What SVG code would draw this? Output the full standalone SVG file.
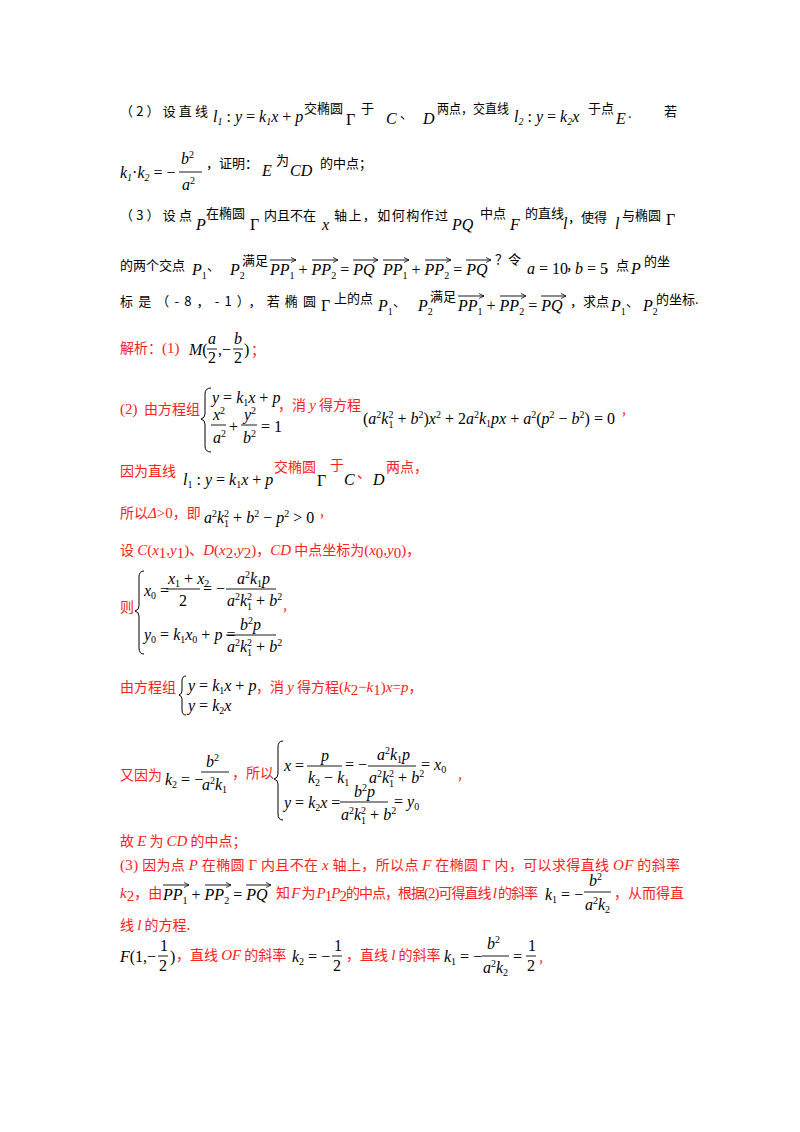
<svg xmlns="http://www.w3.org/2000/svg" width="800" height="1132" viewBox="0 0 800 1132">
<defs>
<marker id="ah" markerWidth="6" markerHeight="6" refX="5" refY="3" orient="auto" markerUnits="userSpaceOnUse"><path d="M0,0.5 L5,3 L0,5.5" fill="none" stroke="#000" stroke-width="0.8"/></marker>
</defs>
<style>
text{font-family:"Noto Sans CJK SC","Noto Sans",sans-serif;font-size:13px;fill:#000}
.m{font-family:"Liberation Serif","Noto Sans CJK SC",serif;font-size:16px;font-style:italic}
.n{font-family:"Liberation Serif","Noto Sans CJK SC",serif;font-size:16px;font-style:normal}
.s{font-size:10px}
.r{fill:#ff2020;font-size:14px}
.rs{font-family:"Liberation Serif","Noto Sans CJK SC",serif;font-size:15px;fill:#ff2020}
.fl{stroke:#000;stroke-width:0.9}
.v{stroke:#000;stroke-width:0.9;marker-end:url(#ah)}
.br{fill:none;stroke:#000;stroke-width:1}
</style>
<rect width="800" height="1132" fill="#fff"/>

<g id="problem">
<text x="120" y="116" textLength="88" lengthAdjust="spacing">（2）设直线</text>
<text class="m" x="213" y="122">l<tspan class="s" dy="3">1</tspan><tspan dy="-3" font-style="normal"> : </tspan>y<tspan font-style="normal"> = </tspan>k<tspan class="s" dy="3">1</tspan><tspan dy="-3">x</tspan><tspan font-style="normal"> + </tspan>p</text>
<text x="304" y="113">交椭圆</text>
<text class="n" x="346" y="125">Γ</text>
<text x="361" y="113">于</text>
<text class="m" x="386" y="124">C</text><text x="400" y="118">、</text>
<text class="m" x="423" y="124">D</text>
<text x="437" y="113" textLength="72" lengthAdjust="spacingAndGlyphs">两点，交直线</text>
<text class="m" x="514" y="122">l<tspan class="s" dy="3">2</tspan><tspan dy="-3" font-style="normal"> : </tspan>y<tspan font-style="normal"> = </tspan>k<tspan class="s" dy="3">2</tspan><tspan dy="-3">x</tspan></text>
<text x="588" y="113">于点</text>
<text class="m" x="616" y="124">E</text><text x="628" y="118">.</text>
<text x="664" y="116">若</text>

<text class="m" x="120" y="178">k<tspan class="s" dy="3">1</tspan><tspan dy="-3" font-style="normal">·</tspan>k<tspan class="s" dy="3">2</tspan><tspan dy="-3" font-style="normal"> = −</tspan></text>
<text class="m" x="181" y="164">b<tspan class="s" dy="-6" font-style="normal">2</tspan></text>
<line class="fl" x1="179" y1="172" x2="202" y2="172"/>
<text class="m" x="182" y="190">a<tspan class="s" dy="-6" font-style="normal">2</tspan></text>
<text x="206" y="168">，证明：</text>
<text class="m" x="262" y="176">E</text>
<text x="276" y="165">为</text>
<text class="m" x="290" y="176">CD</text>
<text x="320" y="168">的中点；</text>

<text x="120" y="220" textLength="72" lengthAdjust="spacing">（3）设点</text>
<text class="m" x="196" y="230">P</text>
<text x="206" y="218">在椭圆</text>
<text class="n" x="250" y="230">Γ</text>
<text x="264" y="220">内且不在</text>
<text class="m" x="322" y="230">x</text>
<text x="334" y="220" textLength="114" lengthAdjust="spacing">轴上，如何构作过</text>
<text class="m" x="452" y="230">PQ</text>
<text x="480" y="218">中点</text>
<text class="m" x="510" y="230">F</text>
<text x="525" y="218">的直线</text>
<text class="m" x="563" y="229">l</text>
<text x="568" y="222">，使得</text>
<text class="m" x="615" y="229">l</text>
<text x="622" y="220">与椭圆</text>
<text class="n" x="666" y="225">Γ</text>

<text x="120" y="270">的两个交点</text>
<text class="m" x="192" y="275">P<tspan class="s" dy="4" font-style="normal">1</tspan></text>
<text x="207" y="270">、</text>
<text class="m" x="230" y="275">P<tspan class="s" dy="4" font-style="normal">2</tspan></text>
<text x="242" y="265">满足</text>
<text class="m" x="270" y="275">PP<tspan class="s" dy="4" font-style="normal">1</tspan><tspan dy="-4" font-style="normal"> + </tspan>PP<tspan class="s" dy="4" font-style="normal">2</tspan><tspan dy="-4" font-style="normal"> = </tspan>PQ</text>
<line class="v" x1="270" y1="260" x2="296" y2="260"/>
<line class="v" x1="312" y1="260" x2="338" y2="260"/>
<line class="v" x1="353" y1="260" x2="378" y2="260"/>
<text class="m" x="383" y="275">PP<tspan class="s" dy="4" font-style="normal">1</tspan><tspan dy="-4" font-style="normal"> + </tspan>PP<tspan class="s" dy="4" font-style="normal">2</tspan><tspan dy="-4" font-style="normal"> = </tspan>PQ</text>
<line class="v" x1="383" y1="260" x2="409" y2="260"/>
<line class="v" x1="425" y1="260" x2="451" y2="260"/>
<line class="v" x1="466" y1="260" x2="491" y2="260"/>
<text x="495" y="264">？令</text>
<text class="m" x="527" y="274">a<tspan font-style="normal"> = 10</tspan></text>
<text x="566" y="270">，</text>
<text class="m" x="575" y="274">b<tspan font-style="normal"> = 5</tspan></text>
<text x="603" y="270">，点</text>
<text class="m" x="631" y="274">P</text>
<text x="644" y="266">的坐</text>

<text x="120" y="306" textLength="196" lengthAdjust="spacing">标是（-8，-1），若椭圆</text>
<text class="n" x="321" y="311">Γ</text>
<text x="334" y="303">上的点</text>
<text class="m" x="378" y="311">P<tspan class="s" dy="4" font-style="normal">1</tspan></text>
<text x="393" y="306">、</text>
<text class="m" x="418" y="311">P<tspan class="s" dy="4" font-style="normal">2</tspan></text>
<text x="430" y="301">满足</text>
<text class="m" x="458" y="311">PP<tspan class="s" dy="4" font-style="normal">1</tspan><tspan dy="-4" font-style="normal"> + </tspan>PP<tspan class="s" dy="4" font-style="normal">2</tspan><tspan dy="-4" font-style="normal"> = </tspan>PQ</text>
<line class="v" x1="458" y1="296" x2="484" y2="296"/>
<line class="v" x1="500" y1="296" x2="526" y2="296"/>
<line class="v" x1="541" y1="296" x2="566" y2="296"/>
<text x="570" y="306">，求点</text>
<text class="m" x="611" y="311">P<tspan class="s" dy="4" font-style="normal">1</tspan></text>
<text x="626" y="306">、</text>
<text class="m" x="643" y="311">P<tspan class="s" dy="4" font-style="normal">2</tspan></text>
<text x="656" y="304">的坐标.</text>
</g>

<g id="solution">
<text class="r" x="120" y="353">解析：<tspan font-family="Liberation Serif" font-size="15">(1)</tspan></text>
<text class="m" x="189" y="355">M<tspan font-style="normal">(</tspan></text>
<text class="m" x="208" y="344">a</text><line class="fl" x1="207" y1="349" x2="217" y2="349"/><text class="n" x="208" y="363">2</text>
<text class="n" x="218" y="355">,−</text>
<text class="m" x="234" y="344">b</text><line class="fl" x1="233" y1="349" x2="243" y2="349"/><text class="n" x="234" y="363">2</text>
<text class="n" x="244" y="355">)</text>
<text class="r" x="251" y="355">；</text>

<text class="rs" x="120" y="414">(2)</text>
<text class="r" x="144" y="414">由方程组</text>
<path class="br" d="M211,388 Q205,388 205,394 L205,414 Q205,418 201,419 Q205,420 205,424 L205,446 Q205,452 211,452"/>
<text class="m" x="212" y="403">y<tspan font-style="normal"> = </tspan>k<tspan class="s" dy="3" font-style="normal">1</tspan><tspan dy="-3">x</tspan><tspan font-style="normal"> + </tspan>p</text>
<text class="m" x="213" y="420">x<tspan class="s" dy="-6" font-style="normal">2</tspan></text>
<line class="fl" x1="211" y1="425" x2="226" y2="425"/>
<text class="m" x="213" y="443">a<tspan class="s" dy="-6" font-style="normal">2</tspan></text>
<text class="n" x="229" y="432">+</text>
<text class="m" x="244" y="420">y<tspan class="s" dy="-6" font-style="normal">2</tspan></text>
<line class="fl" x1="241" y1="425" x2="257" y2="425"/>
<text class="m" x="243" y="443">b<tspan class="s" dy="-6" font-style="normal">2</tspan></text>
<text class="n" x="261" y="432">= 1</text>
<text class="r" x="278" y="410">，消 <tspan font-family="Liberation Serif" font-style="italic" font-size="15">y</tspan> 得方程</text>
<text class="m" x="363" y="424"><tspan font-style="normal">(</tspan>a<tspan class="s" dy="-6" font-style="normal">2</tspan><tspan dy="6">k</tspan><tspan class="s" dy="-6" font-style="normal">2</tspan><tspan class="s" dx="-5" dy="10" font-style="normal">1</tspan><tspan dy="-4" font-style="normal"> + </tspan>b<tspan class="s" dy="-6" font-style="normal">2</tspan><tspan dy="6" font-style="normal">)</tspan>x<tspan class="s" dy="-6" font-style="normal">2</tspan><tspan dy="6" font-style="normal"> + 2</tspan>a<tspan class="s" dy="-6" font-style="normal">2</tspan><tspan dy="6">k</tspan><tspan class="s" dy="3" font-style="normal">1</tspan><tspan dy="-3">px</tspan><tspan font-style="normal"> + </tspan>a<tspan class="s" dy="-6" font-style="normal">2</tspan><tspan dy="6" font-style="normal">(</tspan>p<tspan class="s" dy="-6" font-style="normal">2</tspan><tspan dy="6" font-style="normal"> − </tspan>b<tspan class="s" dy="-6" font-style="normal">2</tspan><tspan dy="6" font-style="normal">) = 0</tspan></text>
<text class="r" x="622" y="414">,</text>

<text class="r" x="120" y="476">因为直线</text>
<text class="m" x="183" y="485">l<tspan class="s" dy="3" font-style="normal">1</tspan><tspan dy="-3" font-style="normal"> : </tspan>y<tspan font-style="normal"> = </tspan>k<tspan class="s" dy="3" font-style="normal">1</tspan><tspan dy="-3">x</tspan><tspan font-style="normal"> + </tspan>p</text>
<text class="r" x="274" y="472">交椭圆</text>
<text class="n" x="317" y="486">Γ</text>
<text class="r" x="330" y="470">于</text>
<text class="m" x="344" y="485">C</text><text class="r" x="357" y="478">、</text>
<text class="m" x="373" y="485">D</text>
<text class="r" x="386" y="472">两点，</text>

<text class="r" x="120" y="518">所以<tspan font-family="Liberation Serif" font-style="italic" font-size="15">Δ</tspan><tspan font-family="Liberation Serif" font-size="15">&gt;0</tspan>，即</text>
<text class="m" x="204" y="523">a<tspan class="s" dy="-6" font-style="normal">2</tspan><tspan dy="6">k</tspan><tspan class="s" dy="-6" font-style="normal">2</tspan><tspan class="s" dx="-5" dy="10" font-style="normal">1</tspan><tspan dy="-4" font-style="normal"> + </tspan>b<tspan class="s" dy="-6" font-style="normal">2</tspan><tspan dy="6" font-style="normal"> − </tspan>p<tspan class="s" dy="-6" font-style="normal">2</tspan><tspan dy="6" font-style="normal"> &gt; 0</tspan></text>
<text class="r" x="320" y="516">,</text>

<text class="r" x="120" y="555">设 <tspan class="rs" font-style="italic">C</tspan><tspan class="rs">(</tspan><tspan class="rs" font-style="italic">x</tspan><tspan class="rs" font-size="10" dy="3">1</tspan><tspan class="rs" dy="-3">,</tspan><tspan class="rs" font-style="italic">y</tspan><tspan class="rs" font-size="10" dy="3">1</tspan><tspan class="rs" dy="-3">)</tspan>、<tspan class="rs" font-style="italic">D</tspan><tspan class="rs">(</tspan><tspan class="rs" font-style="italic">x</tspan><tspan class="rs" font-size="10" dy="3">2</tspan><tspan class="rs" dy="-3">,</tspan><tspan class="rs" font-style="italic">y</tspan><tspan class="rs" font-size="10" dy="3">2</tspan><tspan class="rs" dy="-3">)</tspan>，<tspan class="rs" font-style="italic">CD</tspan> 中点坐标为<tspan class="rs">(</tspan><tspan class="rs" font-style="italic">x</tspan><tspan class="rs" font-size="10" dy="3">0</tspan><tspan class="rs" dy="-3">,</tspan><tspan class="rs" font-style="italic">y</tspan><tspan class="rs" font-size="10" dy="3">0</tspan><tspan class="rs" dy="-3">)</tspan>，</text>

<text class="r" x="120" y="612">则</text>
<path class="br" d="M144,571 Q139,571 139,577 L139,606 Q139,610 135,611 Q139,612 139,616 L139,648 Q139,654 144,654"/>
<text class="m" x="144" y="596">x<tspan class="s" dy="3" font-style="normal">0</tspan><tspan dy="-3" font-style="normal"> =</tspan></text>
<text class="m" x="168" y="584">x<tspan class="s" dy="3" font-style="normal">1</tspan><tspan dy="-3" font-style="normal"> + </tspan>x<tspan class="s" dy="3" font-style="normal">2</tspan></text>
<line class="fl" x1="166" y1="589" x2="200" y2="589"/>
<text class="n" x="179" y="606">2</text>
<text class="n" x="203" y="594">= −</text>
<text class="m" x="237" y="584">a<tspan class="s" dy="-6" font-style="normal">2</tspan><tspan dy="6">k</tspan><tspan class="s" dy="3" font-style="normal">1</tspan><tspan dy="-3">p</tspan></text>
<line class="fl" x1="226" y1="589" x2="276" y2="589"/>
<text class="m" x="227" y="606">a<tspan class="s" dy="-6" font-style="normal">2</tspan><tspan dy="6">k</tspan><tspan class="s" dy="-6" font-style="normal">2</tspan><tspan class="s" dx="-5" dy="10" font-style="normal">1</tspan><tspan dy="-4" font-style="normal"> + </tspan>b<tspan class="s" dy="-6" font-style="normal">2</tspan></text>
<text class="r" x="283" y="610">,</text>
<text class="m" x="144" y="640">y<tspan class="s" dy="3" font-style="normal">0</tspan><tspan dy="-3" font-style="normal"> = </tspan>k<tspan class="s" dy="3" font-style="normal">1</tspan><tspan dy="-3">x</tspan><tspan class="s" dy="3" font-style="normal">0</tspan><tspan dy="-3" font-style="normal"> + </tspan>p<tspan font-style="normal"> =</tspan></text>
<text class="m" x="240" y="630">b<tspan class="s" dy="-6" font-style="normal">2</tspan><tspan dy="6">p</tspan></text>
<line class="fl" x1="226" y1="635" x2="276" y2="635"/>
<text class="m" x="227" y="652">a<tspan class="s" dy="-6" font-style="normal">2</tspan><tspan dy="6">k</tspan><tspan class="s" dy="-6" font-style="normal">2</tspan><tspan class="s" dx="-5" dy="10" font-style="normal">1</tspan><tspan dy="-4" font-style="normal"> + </tspan>b<tspan class="s" dy="-6" font-style="normal">2</tspan></text>

<text class="r" x="120" y="692">由方程组</text>
<path class="br" d="M186,676 Q182,676 182,681 L182,691 Q182,694 179,695 Q182,696 182,699 L182,710 Q182,715 186,715"/>
<text class="m" x="188" y="691">y<tspan font-style="normal"> = </tspan>k<tspan class="s" dy="3" font-style="normal">1</tspan><tspan dy="-3">x</tspan><tspan font-style="normal"> + </tspan>p</text>
<text class="m" x="188" y="711">y<tspan font-style="normal"> = </tspan>k<tspan class="s" dy="3" font-style="normal">2</tspan><tspan dy="-3">x</tspan></text>
<text class="r" x="256" y="692">，消 <tspan class="rs" font-style="italic">y</tspan> 得方程<tspan class="rs">(</tspan><tspan class="rs" font-style="italic">k</tspan><tspan class="rs" font-size="10" dy="3">2</tspan><tspan class="rs" dy="-3">−</tspan><tspan class="rs" font-style="italic">k</tspan><tspan class="rs" font-size="10" dy="3">1</tspan><tspan class="rs" dy="-3">)</tspan><tspan class="rs" font-style="italic">x</tspan><tspan class="rs">=</tspan><tspan class="rs" font-style="italic">p</tspan>，</text>

<text class="r" x="120" y="780">又因为</text>
<text class="m" x="165" y="785">k<tspan class="s" dy="3" font-style="normal">2</tspan><tspan dy="-3" font-style="normal"> = −</tspan></text>
<text class="m" x="206" y="767">b<tspan class="s" dy="-6" font-style="normal">2</tspan></text>
<line class="fl" x1="201" y1="772" x2="229" y2="772"/>
<text class="m" x="202" y="790">a<tspan class="s" dy="-6" font-style="normal">2</tspan><tspan dy="6">k</tspan><tspan class="s" dy="3" font-style="normal">1</tspan></text>
<text class="r" x="232" y="778">，所以</text>
<path class="br" d="M283,741 Q278,741 278,747 L278,774 Q278,778 274,779 Q278,780 278,784 L278,814 Q278,820 283,820"/>
<text class="m" x="284" y="771">x<tspan font-style="normal"> =</tspan></text>
<text class="m" x="321" y="761">p</text>
<line class="fl" x1="307" y1="766" x2="342" y2="766"/>
<text class="m" x="308" y="783">k<tspan class="s" dy="3" font-style="normal">2</tspan><tspan dy="-3" font-style="normal"> − </tspan>k<tspan class="s" dy="3" font-style="normal">1</tspan></text>
<text class="n" x="345" y="770">= −</text>
<text class="m" x="377" y="760">a<tspan class="s" dy="-6" font-style="normal">2</tspan><tspan dy="6">k</tspan><tspan class="s" dy="3" font-style="normal">1</tspan><tspan dy="-3">p</tspan></text>
<line class="fl" x1="368" y1="766" x2="416" y2="766"/>
<text class="m" x="369" y="783">a<tspan class="s" dy="-6" font-style="normal">2</tspan><tspan dy="6">k</tspan><tspan class="s" dy="-6" font-style="normal">2</tspan><tspan class="s" dx="-5" dy="10" font-style="normal">1</tspan><tspan dy="-4" font-style="normal"> + </tspan>b<tspan class="s" dy="-6" font-style="normal">2</tspan></text>
<text class="m" x="421" y="770"><tspan font-style="normal">= </tspan>x<tspan class="s" dy="3" font-style="normal">0</tspan></text>
<text class="r" x="458" y="779">,</text>
<text class="m" x="284" y="808">y<tspan font-style="normal"> = </tspan>k<tspan class="s" dy="3" font-style="normal">2</tspan><tspan dy="-3">x</tspan><tspan font-style="normal"> =</tspan></text>
<text class="m" x="354" y="797">b<tspan class="s" dy="-6" font-style="normal">2</tspan><tspan dy="6">p</tspan></text>
<line class="fl" x1="340" y1="802" x2="388" y2="802"/>
<text class="m" x="341" y="820">a<tspan class="s" dy="-6" font-style="normal">2</tspan><tspan dy="6">k</tspan><tspan class="s" dy="-6" font-style="normal">2</tspan><tspan class="s" dx="-5" dy="10" font-style="normal">1</tspan><tspan dy="-4" font-style="normal"> + </tspan>b<tspan class="s" dy="-6" font-style="normal">2</tspan></text>
<text class="m" x="394" y="807"><tspan font-style="normal">= </tspan>y<tspan class="s" dy="3" font-style="normal">0</tspan></text>

<text class="r" x="120" y="846">故 <tspan class="rs" font-style="italic">E</tspan> 为 <tspan class="rs" font-style="italic">CD</tspan> 的中点；</text>
<text class="r" x="120" y="870" textLength="560" lengthAdjust="spacing"><tspan class="rs">(3)</tspan> 因为点 <tspan class="rs" font-style="italic">P</tspan> 在椭圆 <tspan class="rs">Γ</tspan> 内且不在 <tspan class="rs" font-style="italic">x</tspan> 轴上，所以点 <tspan class="rs" font-style="italic">F</tspan> 在椭圆 <tspan class="rs">Γ</tspan> 内，可以求得直线 <tspan class="rs" font-style="italic">OF</tspan> 的斜率</text>

<text class="r" x="120" y="898"><tspan class="rs" font-style="italic">k</tspan><tspan class="rs" font-size="10" dy="3">2</tspan><tspan dy="-3">，由</tspan></text>
<text class="m" x="163" y="900">PP<tspan class="s" dy="4" font-style="normal">1</tspan><tspan dy="-4" font-style="normal"> + </tspan>PP<tspan class="s" dy="4" font-style="normal">2</tspan><tspan dy="-4" font-style="normal"> = </tspan>PQ</text>
<line class="v" x1="163" y1="885" x2="189" y2="885"/>
<line class="v" x1="205" y1="885" x2="231" y2="885"/>
<line class="v" x1="246" y1="885" x2="271" y2="885"/>
<text class="r" x="276" y="898" textLength="262" lengthAdjust="spacing">知 <tspan class="rs" font-style="italic">F</tspan> 为 <tspan class="rs" font-style="italic">P</tspan><tspan class="rs" font-size="10" dy="3">1</tspan><tspan class="rs" font-style="italic" dy="-3">P</tspan><tspan class="rs" font-size="10" dy="3">2</tspan><tspan dy="-3">的中点，根据</tspan><tspan class="rs">(2)</tspan>可得直线 <tspan class="rs" font-style="italic">l</tspan> 的斜率</text>
<text class="m" x="545" y="900">k<tspan class="s" dy="3" font-style="normal">1</tspan><tspan dy="-3" font-style="normal"> = −</tspan></text>
<text class="m" x="589" y="886">b<tspan class="s" dy="-6" font-style="normal">2</tspan></text>
<line class="fl" x1="584" y1="892" x2="611" y2="892"/>
<text class="m" x="585" y="910">a<tspan class="s" dy="-6" font-style="normal">2</tspan><tspan dy="6">k</tspan><tspan class="s" dy="3" font-style="normal">2</tspan></text>
<text class="r" x="614" y="898">，从而得直</text>

<text class="r" x="120" y="930">线 <tspan class="rs" font-style="italic">l</tspan> 的方程.</text>

<text class="m" x="120" y="962">F<tspan font-style="normal">(1,−</tspan></text>
<text class="n" x="160" y="951">1</text><line class="fl" x1="158" y1="956" x2="168" y2="956"/><text class="n" x="159" y="971">2</text>
<text class="n" x="170" y="962">)</text>
<text class="r" x="176" y="960">，直线 <tspan class="rs" font-style="italic">OF</tspan> 的斜率</text>
<text class="m" x="292" y="962">k<tspan class="s" dy="3" font-style="normal">2</tspan><tspan dy="-3" font-style="normal"> = −</tspan></text>
<text class="n" x="334" y="951">1</text><line class="fl" x1="332" y1="956" x2="342" y2="956"/><text class="n" x="333" y="971">2</text>
<text class="r" x="346" y="960">，直线 <tspan class="rs" font-style="italic">l</tspan> 的斜率</text>
<text class="m" x="444" y="962">k<tspan class="s" dy="3" font-style="normal">1</tspan><tspan dy="-3" font-style="normal"> = −</tspan></text>
<text class="m" x="487" y="949">b<tspan class="s" dy="-6" font-style="normal">2</tspan></text>
<line class="fl" x1="482" y1="956" x2="509" y2="956"/>
<text class="m" x="483" y="973">a<tspan class="s" dy="-6" font-style="normal">2</tspan><tspan dy="6">k</tspan><tspan class="s" dy="3" font-style="normal">2</tspan></text>
<text class="n" x="513" y="962">=</text>
<text class="n" x="528" y="951">1</text><line class="fl" x1="526" y1="956" x2="536" y2="956"/><text class="n" x="527" y="971">2</text>
<text class="r" x="539" y="962">,</text>
</g>
</svg>
